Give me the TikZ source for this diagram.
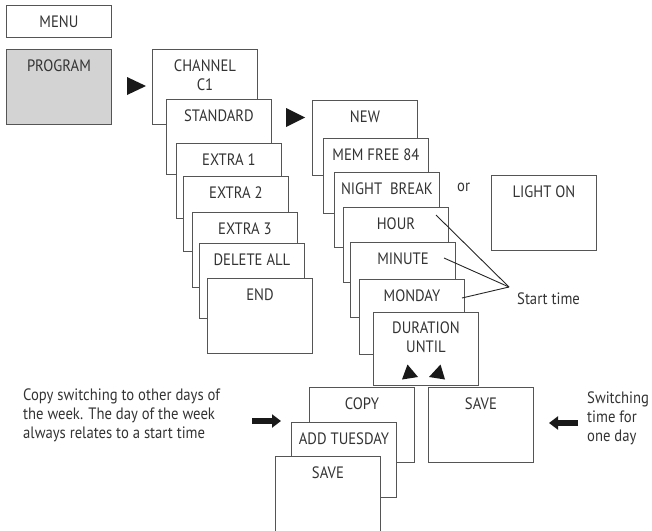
\documentclass[tikz,border=0pt]{standalone}
\usepackage{fontspec}
\setmainfont{PT Sans}[FakeStretch=0.89]
\usetikzlibrary{arrows.meta}
\definecolor{linec}{HTML}{555555}
\definecolor{textc}{HTML}{333333}
\definecolor{grayfill}{HTML}{D3D3D3}
\newcommand{\labfont}{\fontsize{16.5}{19}\selectfont}
\tikzset{
  box/.style={draw=linec, line width=0.9pt, fill=white, minimum width=105pt, minimum height=75pt, anchor=north west, inner sep=0pt},
  lab/.style={text=textc, font=\labfont, inner sep=0pt, anchor=north, align=center},
  txt/.style={text=textc, font=\labfont, inner sep=0pt, align=left},
  tri/.style={fill=black!90},
  fatarrow/.style={line width=5.5pt, black!90, -{Triangle[length=9pt,width=13pt]}},
  pointer/.style={draw=black!85, line width=0.9pt},
}
\begin{document}
\begin{tikzpicture}[x=1pt,y=-1pt]
\useasboundingbox (0,0) rectangle (652,530);
% left column
\node[box, minimum height=32pt] (menu) at (6,5) {};
\node[lab, anchor=center] (menuT) at (menu.center) {MENU};
\node[box, fill=grayfill] (prog) at (6,49) {};
\node[lab] (progT) at ([yshift=-11pt]prog.north) {PROGRAM};
\fill[tri] (127,77) -- (146,86) -- (127,95) -- cycle;
% channel column
\node[box] (chan) at (152,49) {};
\node[lab] (chanT) at ([yshift=-11pt]chan.north) {CHANNEL\\C1};
\node[box] (std) at (166,99) {};
\node[lab] (stdT) at ([yshift=-11pt]std.north) {STANDARD};
\node[box] (ex1) at (176,143) {};
\node[lab] (ex1T) at ([yshift=-11pt]ex1.north) {EXTRA 1};
\node[box] (ex2) at (183,176) {};
\node[lab] (ex2T) at ([yshift=-11pt]ex2.north) {EXTRA 2};
\node[box] (ex3) at (192,212) {};
\node[lab] (ex3T) at ([yshift=-11pt]ex3.north) {EXTRA 3};
\node[box] (del) at (199,243) {};
\node[lab] (delT) at ([yshift=-11pt]del.north) {DELETE ALL};
\node[box] (endb) at (207,278) {};
\node[lab] (endT) at ([yshift=-11pt]endb.north) {END};
\fill[tri] (286,108) -- (305,117.5) -- (286,127) -- cycle;
% program column
\node[box] (new) at (312,100) {};
\node[lab] (newT) at ([yshift=-11pt]new.north) {NEW};
\node[box] (mem) at (323,138) {};
\node[lab] (memT) at ([yshift=-11pt]mem.north) {MEM FREE 84};
\node[box] (night) at (334,172) {};
\node[lab] (nightT) at ([yshift=-11pt]night.north) {NIGHT\ \ BREAK};
\node[box] (hour) at (343,207) {};
\node[lab] (hourT) at ([yshift=-11pt]hour.north) {HOUR};
\node[box] (minute) at (350,242) {};
\node[lab] (minuteT) at ([yshift=-11pt]minute.north) {MINUTE};
\node[box] (monday) at (359,279) {};
\node[lab] (mondayT) at ([yshift=-11pt]monday.north) {MONDAY};
\node[box, minimum height=73pt] (dur) at (373,312) {};
\node[lab] (durT) at ([yshift=-10pt]dur.north) {DURATION\\UNTIL};
\fill[tri] (402,379.5) -- (407.5,364.5) -- (418,377) -- cycle;
\fill[tri] (429,377) -- (440.5,364.5) -- (445,379.5) -- cycle;
% or / light on
\node[txt, anchor=base west] (orT) at (457,191) {or};
\node[box] (light) at (491,175) {};
\node[lab] (lightT) at ([yshift=-11pt]light.north) {LIGHT ON};
% start time pointers
\coordinate (st) at (509,287);
\coordinate (hp) at (436,215);
\coordinate (mp) at (444,258);
\coordinate (dp) at (462,298);
\draw[pointer] (hp) -- (st);
\draw[pointer] (mp) -- (st);
\draw[pointer] (dp) -- (st);
\node[txt, anchor=north west] (startT) at (517,293) {Start time};
% bottom
\node[box] (copy) at (309,387) {};
\node[lab] (copyT) at ([yshift=-11pt]copy.north) {COPY};
\node[box] (addt) at (291,422) {};
\node[lab] (addtT) at ([yshift=-11pt]addt.north) {ADD TUESDAY};
\node[box] (save1) at (275,456) {};
\node[lab] (save1T) at ([yshift=-11pt]save1.north) {SAVE};
\node[box] (save2) at (428,387) {};
\node[lab] (save2T) at ([yshift=-11pt]save2.north) {SAVE};
\node[txt, anchor=north west] (copyD) at (23,389) {Copy switching to other days of\\the week. The day of the week\\always relates to a start time};
\node[txt, anchor=north west] (saveD) at (587,392) {Switching\\time for\\one day};
\coordinate (ra1) at (252,421);
\coordinate (ra2) at (281,421);
\coordinate (la1) at (578,423);
\coordinate (la2) at (549,423);
\draw[fatarrow] (ra1) -- (ra2);
\draw[fatarrow] (la1) -- (la2);
\end{tikzpicture}
\end{document}
